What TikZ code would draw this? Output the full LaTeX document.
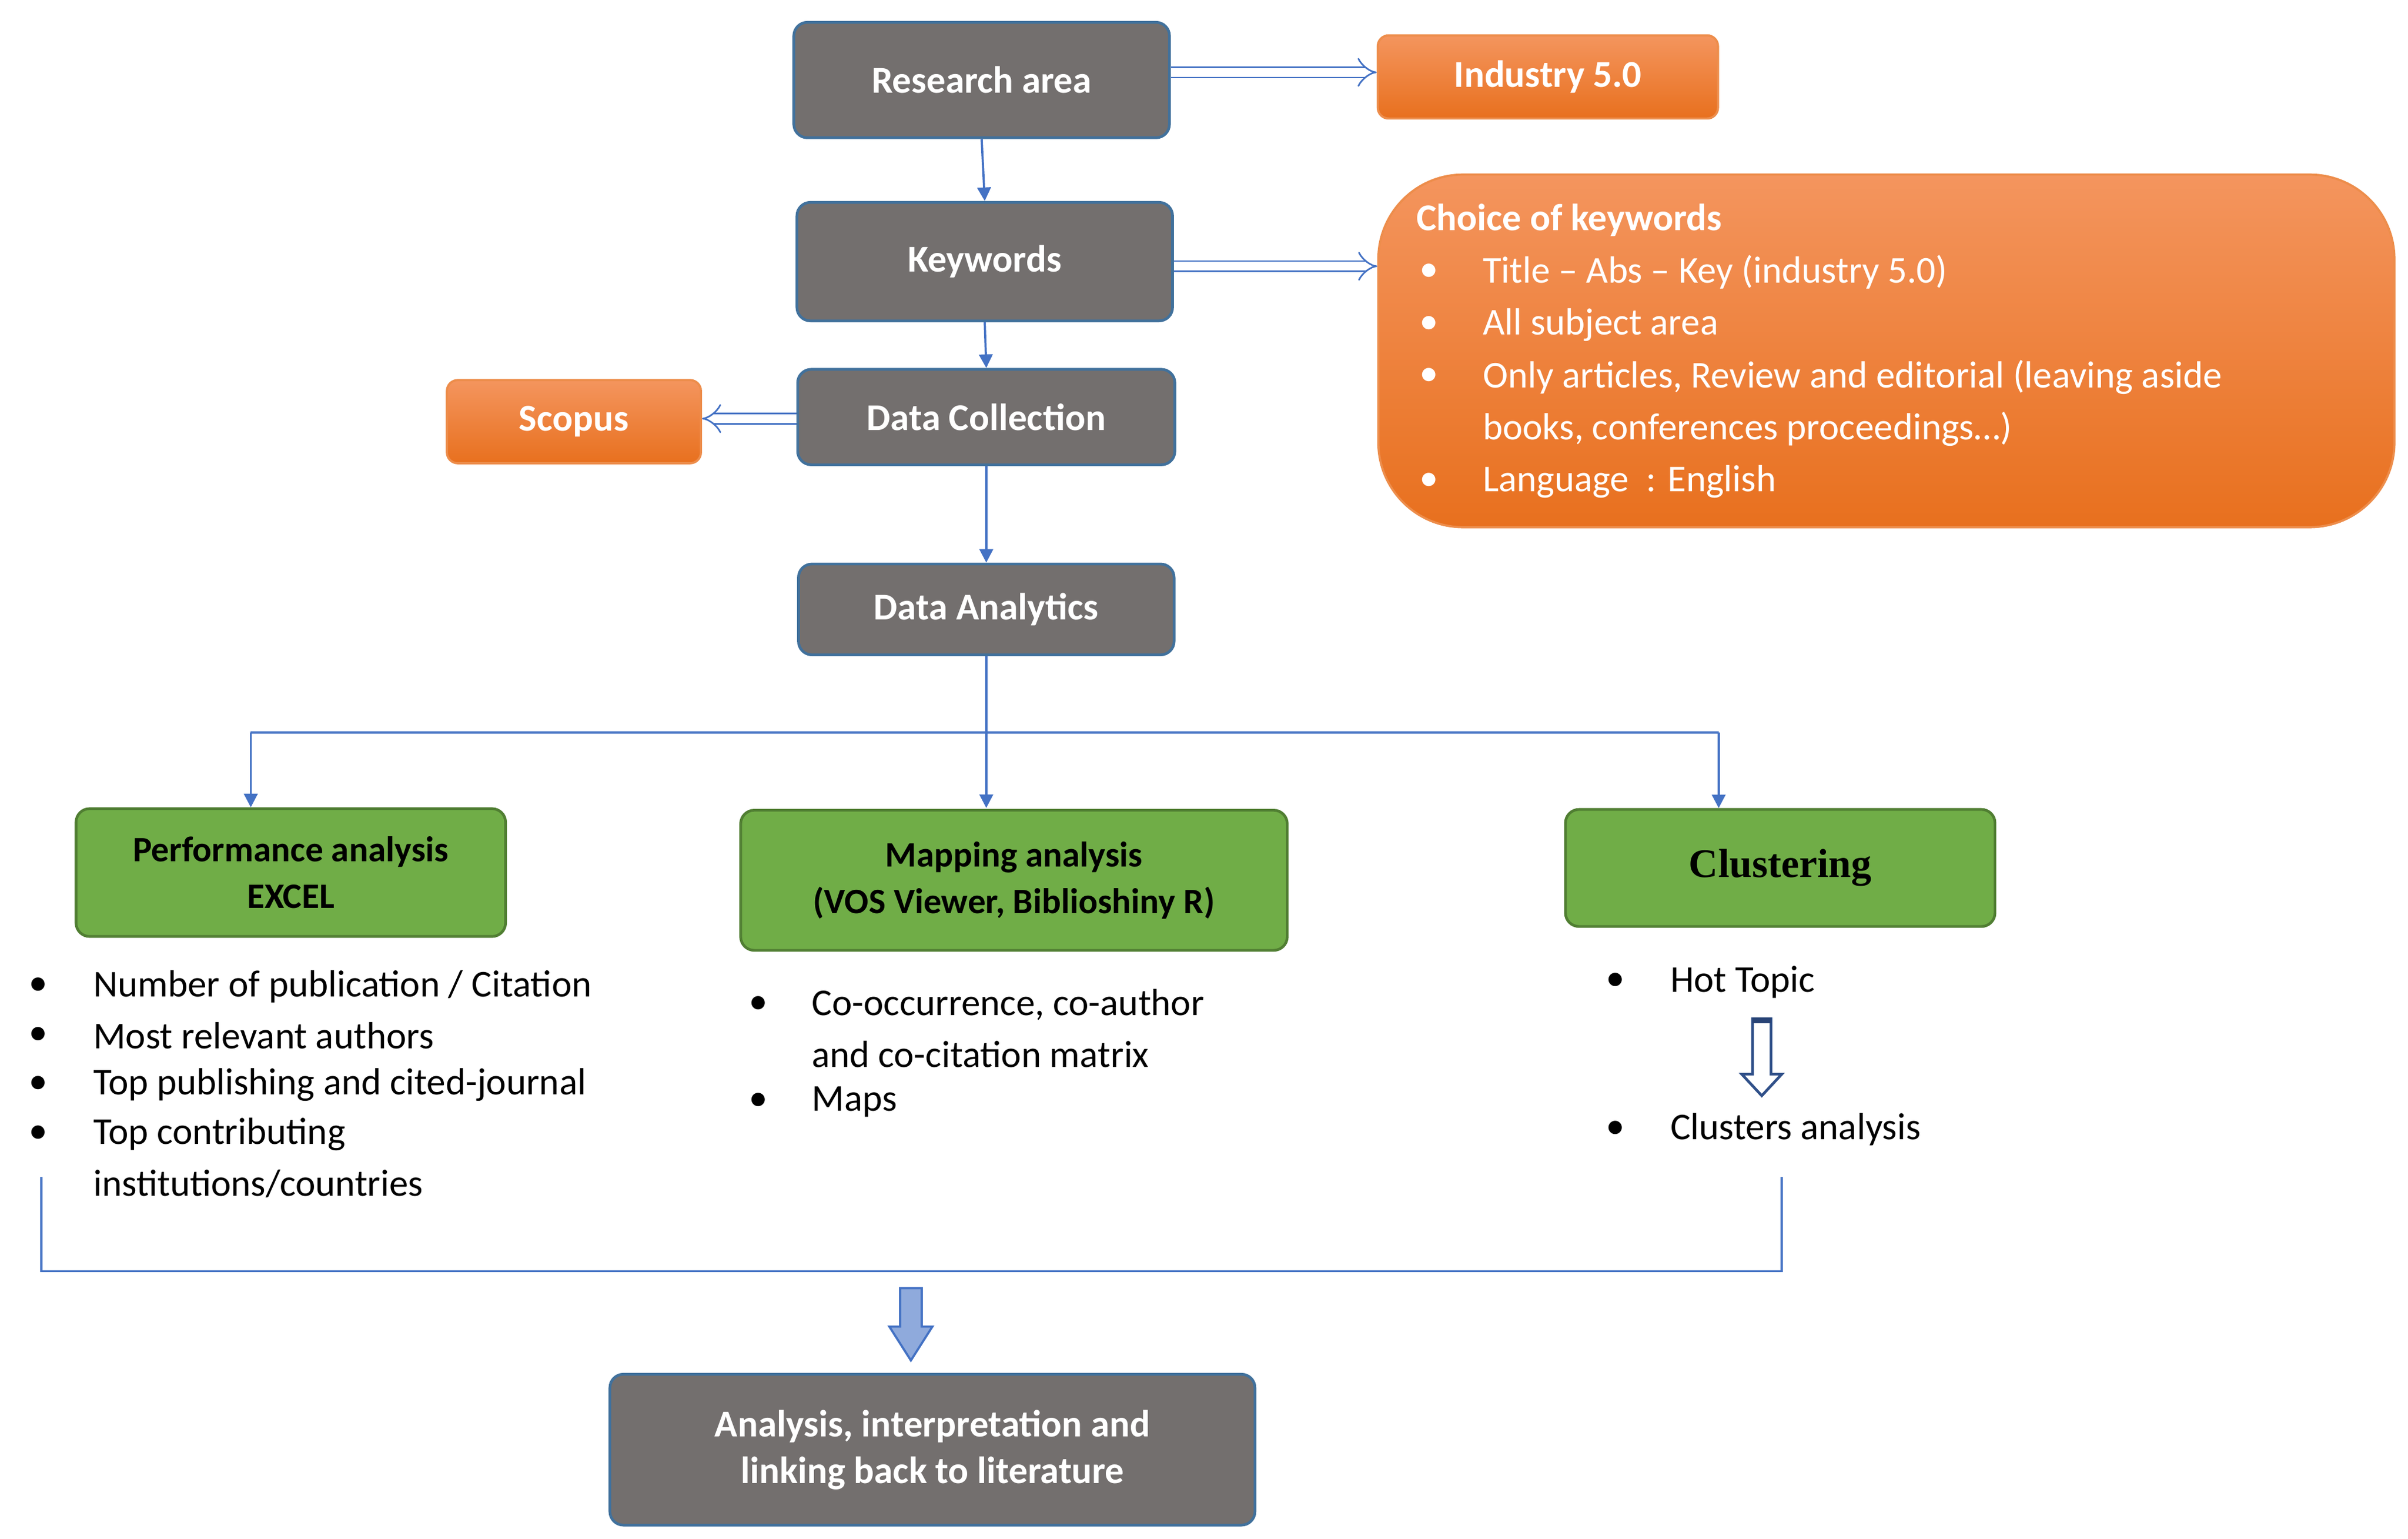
\documentclass[tikz,border=0pt]{standalone}
\usepackage{fontspec}
\setmainfont{Carlito}
\newfontfamily\tms{Liberation Serif}
\usetikzlibrary{arrows.meta}
\definecolor{gbox}{HTML}{736F6E}
\definecolor{bl}{HTML}{41719C}
\definecolor{ln}{HTML}{4472C4}
\definecolor{orT}{HTML}{F4955E}
\definecolor{orB}{HTML}{E8701E}
\definecolor{gr}{HTML}{70AD47}
\definecolor{grd}{HTML}{507E32}
\begin{document}
\begin{tikzpicture}[x=0.01cm,y=-0.01cm,
  every node/.style={font=\fontsize{7}{8.6}\selectfont},
  gbx/.style={draw=bl,line width=0.5pt,fill=gbox,rounded corners=2.5pt,text=white,font=\fontsize{7}{8.6}\selectfont\bfseries,align=center},
  obx/.style={top color=orT,bottom color=orB,draw=orB!80!white,line width=0.4pt,rounded corners=2pt,text=white,font=\fontsize{7}{8.6}\selectfont\bfseries},
  gnx/.style={draw=grd,line width=0.5pt,fill=gr,rounded corners=2.5pt,font=\fontsize{6.6}{8.6}\selectfont\bfseries,align=center},
  con/.style={ln,line width=0.4pt,-{Triangle[length=2.5pt,width=2.5pt]}},
  dbl/.style={ln,double=white,double distance=1.6pt,line width=0.3pt,-{Implies[length=3pt]}},
  tx/.style={anchor=west,inner sep=0pt},
  wtx/.style={anchor=west,inner sep=0pt,text=white}]
\useasboundingbox (0,0) rectangle (1565,1000);
\node[gbx,minimum width=244\pgflinewidth,inner sep=0pt] (ra) at (638,52) [minimum width=2.44cm,minimum height=0.75cm] {Research area};
\node[obx,minimum width=2.21cm,minimum height=0.54cm] (ind) at (1006,50) {Industry 5.0};
\node[gbx,minimum width=2.44cm,minimum height=0.77cm] (kw) at (640,170) {Keywords};
\node[top color=orT,bottom color=orB,draw=orB!80!white,rounded corners=0.55cm,minimum width=6.6cm,minimum height=2.29cm] (ch) at (1226,228) {};
\node[obx,minimum width=1.65cm,minimum height=0.54cm] (sc) at (373,274) {Scopus};
\node[gbx,minimum width=2.45cm,minimum height=0.62cm] (dc) at (641,271) {Data Collection};
\node[gbx,minimum width=2.44cm,minimum height=0.59cm] (da) at (641,396) {Data Analytics};
\node[gnx,minimum width=2.79cm,minimum height=0.83cm] (pa) at (189,567) {Performance analysis\\EXCEL};
\node[gnx,minimum width=3.55cm,minimum height=0.91cm] (ma) at (659,572) {Mapping analysis\\(VOS Viewer, Biblioshiny R)};
\node[gnx,minimum width=2.79cm,minimum height=0.76cm,font=\fontsize{7.5}{9}\selectfont\tms\bfseries] (cl) at (1157,564) {Clustering};
\node[gbx,minimum width=4.19cm,minimum height=0.98cm] (fin) at (606,942) {Analysis, interpretation and\\linking back to literature};
% connectors
\draw[con] (ra.south) -- (kw.north);
\draw[con] (kw.south) -- (dc.north);
\draw[con] (dc.south) -- (da.north);
\draw[dbl] (ra.east|-0,47) -- (ind.west|-0,47);
\draw[dbl] (kw.east|-0,173) -- (ch.west|-0,173);
\draw[dbl] (dc.west|-0,272) -- (sc.east|-0,272);
\coordinate (hl) at (163,476); \coordinate (hr) at (1117,476);
\draw[ln,line width=0.4pt] (da.south) -- (641,476);
\draw[ln,line width=0.4pt] (hl) -- (hr);
\draw[con] (hl) -- (pa.north-|hl);
\draw[con] (641,476) -- (641,525);
\draw[con] (hr) -- (cl.north-|hr);
\coordinate (b1) at (27,765); \coordinate (b2) at (1158,765);
\draw[ln,line width=0.4pt] (b1) -- (27,826) -- (1158,826) -- (b2);
\coordinate (fa) at (592,837); \coordinate (fb) at (592,884);
\draw[draw=ln,fill=ln!60!white,line width=0.4pt] (585,837) -- (599,837) -- (599,862) -- (606,862) -- (592,884) -- (578,862) -- (585,862) -- cycle;
\draw[draw=ln!70!black,fill=white,line width=0.5pt] (1139,662) -- (1151,662) -- (1151,698) -- (1158,698) -- (1145,712) -- (1132,698) -- (1139,698) -- cycle;
\fill[ln!60!black] (1139,661) rectangle (1151,665);
% choice text
\node[wtx,font=\fontsize{7}{8.6}\selectfont\bfseries] (t0) at (920,143) {Choice of keywords};
\foreach \y/\t in {177/{Title -- Abs -- Key (industry 5.0)},211/{All subject area},245/{Only articles, Review and editorial (leaving aside},313/{Language\ \ : English}}{
  \node[wtx] at (922,\y) {\textbullet}; \node[wtx] at (963,\y) {\t};}
\node[wtx] at (963,279) {books, conferences proceedings…)};
% performance list
\foreach \y/\t in {641/{Number of publication / Citation},673/{Most relevant authors},705/{Top publishing and cited-journal},737/{Top contributing}}{
  \node[tx] at (18,\y) {\textbullet}; \node[tx] at (60,\y) {\t};}
\node[tx] at (60,769) {institutions/countries};
\foreach \y/\t in {653/{Co-occurrence, co-author},716/{Maps}}{
  \node[tx] at (486,\y) {\textbullet}; \node[tx] at (527,\y) {\t};}
\node[tx] at (527,685) {and co-citation matrix};
\foreach \y/\t in {638/{Hot Topic},734/{Clusters analysis}}{
  \node[tx] at (1043,\y) {\textbullet}; \node[tx] at (1085,\y) {\t};}
\end{tikzpicture}
\end{document}
